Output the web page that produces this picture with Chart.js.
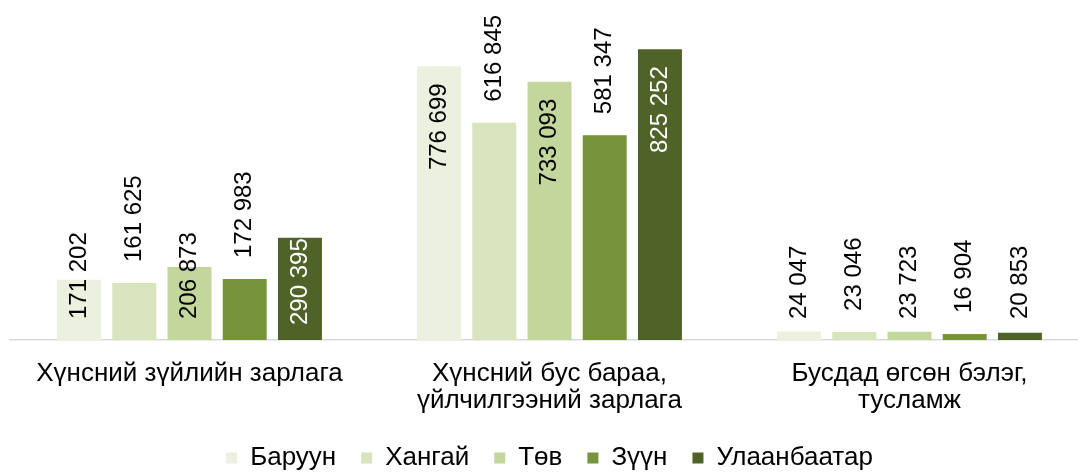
<!DOCTYPE html>
<html>
<head>
<meta charset="utf-8">
<script src="https://cdn.jsdelivr.net/npm/chart.js@4/dist/chart.umd.min.js"></script>
<style>
    body { margin: 0; overflow: hidden; background: #fff; }
    #wrap { width: 1100px; height: 481px; position: relative; }
</style>
</head>
<body>
<div id="wrap"><canvas id="expenseChart"></canvas></div>
<script>
// Dữ liệu biểu đồ
const categories = [
    "Хүнсний зүйлийн зарлага",
    ["Хүнсний бус бараа,", "үйлчилгээний зарлага"],
    ["Бусдад өгсөн бэлэг,", "тусламж"]
];
const seriesNames = ["Баруун", "Хангай", "Төв", "Зүүн", "Улаанбаатар"];
const baruun = [171202, 776699, 24047];
const khangai = [161625, 616845, 23046];
const tuv = [206873, 733093, 23723];
const zuun = [172983, 581347, 16904];
const ulaanbaatar = [290395, 825252, 20853];

const seriesValues = [baruun, khangai, tuv, zuun, ulaanbaatar];
const seriesColors = ["#EBF1DE", "#D7E4BD", "#C3D69B", "#77933C", "#4F6228"];
// vị trí nhãn: trong cột / ngoài cột
const labelPlacement = ["inside", "outside", "inside", "outside", "inside"];

const FONT = "'Liberation Sans', Arial, sans-serif";

function formatNumber(v) {
    return String(v).replace(/\B(?=(\d{3})+(?!\d))/g, " ");
}

// Plugin vẽ nhãn dữ liệu xoay dọc
const verticalLabels = {
    id: "verticalLabels",
    afterLayout(chart) {
        // cho nhãn trục x hai dòng không bị cắt
        chart.scales.x.bottom = chart.height;
    },
    afterDatasetsDraw(chart) {
        const ctx = chart.ctx;
        ctx.save();
        ctx.font = "24px " + FONT;
        ctx.textAlign = "left";
        ctx.textBaseline = "middle";
        chart.data.datasets.forEach((ds, i) => {
            const meta = chart.getDatasetMeta(i);
            meta.data.forEach((bar, j) => {
                const text = formatNumber(ds.data[j]);
                const len = ctx.measureText(text).width;
                const top = bar.y;
                const base = bar.base;
                const h = base - top;
                let start;
                let color = "#000";
                if (ds.labelPlacement === "outside") {
                    start = top - 21;
                } else if (h >= len + 34) {
                    start = top + 17 + len;
                } else if (h > len) {
                    start = base - 15;
                } else {
                    start = base - 21;
                }
                if (ds.labelPlacement === "inside" && ds.darkBar && h > len) {
                    color = "#fff";
                }
                ctx.save();
                ctx.translate(bar.x, start);
                ctx.rotate(-Math.PI / 2);
                ctx.fillStyle = color;
                ctx.fillText(text, 0, 0);
                ctx.restore();
            });
        });
        ctx.restore();
    }
};

function createExpenseChart() {
    const ctx = document.getElementById("expenseChart").getContext("2d");

    new Chart(ctx, {
        type: "bar",
        data: {
            labels: categories,
            datasets: seriesNames.map((name, i) => ({
                label: name,
                data: seriesValues[i],
                backgroundColor: seriesColors[i],
                borderWidth: 0,
                labelPlacement: labelPlacement[i],
                darkBar: i === 4,
                categoryPercentage: 0.767,
                barPercentage: 0.796
            }))
        },
        options: {
            responsive: true,
            maintainAspectRatio: false,
            animation: false,
            layout: {
                padding: { left: 9.5, right: 10.5, top: 0, bottom: 0 }
            },
            scales: {
                x: {
                    grid: { display: false },
                    border: { display: true, color: "#D9D9D9", width: 1.5 },
                    ticks: {
                        color: "#000",
                        padding: 12,
                        maxRotation: 0,
                        autoSkip: false,
                        font: { family: FONT, size: 26, lineHeight: 1.05 }
                    },
                    afterFit(scale) {
                        scale.height = 80;
                    }
                },
                y: {
                    display: false,
                    min: 0,
                    max: 965000
                }
            },
            plugins: {
                legend: {
                    position: "bottom",
                    labels: {
                        color: "#000",
                        boxWidth: 11,
                        boxHeight: 11,
                        padding: 25,
                        font: { family: FONT, size: 26 }
                    }
                },
                tooltip: { enabled: false }
            }
        },
        plugins: [verticalLabels]
    });
}

document.addEventListener("DOMContentLoaded", () => {
    createExpenseChart();
});
</script>
</body>
</html>
